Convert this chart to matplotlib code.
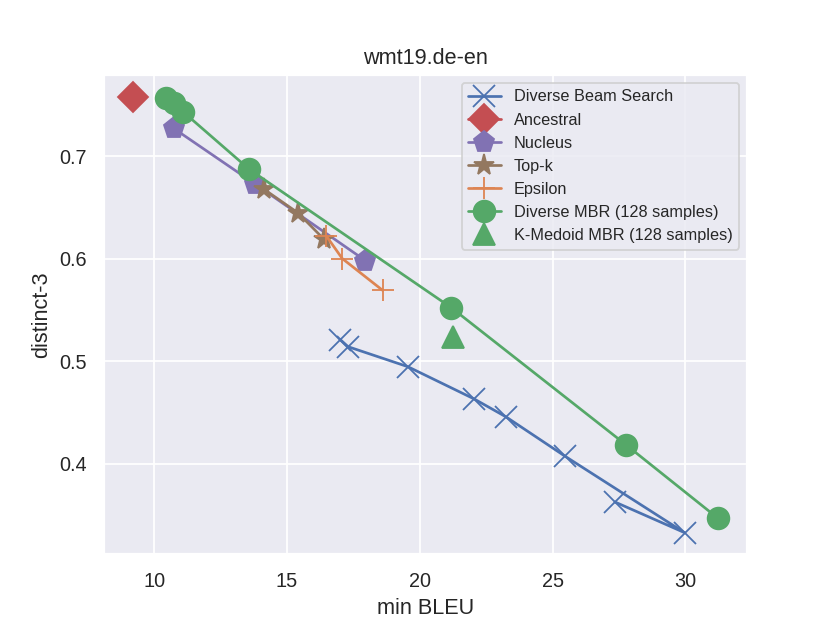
import matplotlib
matplotlib.use("Agg")
import matplotlib.pyplot as plt
import seaborn as sns

sns.set_theme()
plt.rcParams['font.family'] = ['Liberation Sans', 'DejaVu Sans']

# min BLEU / distinct-3 pairs
dbs_bleu = [17.0, 17.3, 19.55, 22.05, 23.25, 25.45, 29.97, 27.35]
dbs_dist = [0.521, 0.514, 0.4945, 0.463, 0.4455, 0.4075, 0.3326, 0.3625]

anc_bleu = [9.2]
anc_dist = [0.758]

nuc_bleu = [10.73, 13.78, 17.95]
nuc_dist = [0.727, 0.673, 0.598]

topk_bleu = [14.14, 15.41, 16.4]
topk_dist = [0.6675, 0.6446, 0.6186]

eps_bleu = [16.48, 17.08, 18.6]
eps_dist = [0.622, 0.600, 0.569]

dmbr_bleu = [10.45, 10.75, 11.08, 13.58, 21.19, 27.77, 31.22]
dmbr_dist = [0.757, 0.7515, 0.7433, 0.687, 0.552, 0.4182, 0.3468]

kmed_bleu = [21.25]
kmed_dist = [0.523]

pal = sns.color_palette()

fig = plt.figure(figsize=(830 / 130, 623 / 130), dpi=130)
ms = 12
plt.plot(dbs_bleu, dbs_dist, marker='x', markersize=ms, color=pal[0], label="Diverse Beam Search")
plt.plot(anc_bleu, anc_dist, marker='D', markersize=ms, color=pal[3], label="Ancestral")
plt.plot(nuc_bleu, nuc_dist, marker='p', markersize=ms, color=pal[4], label="Nucleus")
plt.plot(topk_bleu, topk_dist, marker='*', markersize=ms, color=pal[5], label="Top-k")
plt.plot(eps_bleu, eps_dist, marker='+', markersize=ms, color=pal[1], label="Epsilon")
plt.plot(dmbr_bleu, dmbr_dist, marker='o', markersize=ms, color=pal[2], label="Diverse MBR (128 samples)")
plt.plot(kmed_bleu, kmed_dist, marker='^', markersize=ms, color=pal[2], linestyle='none',
         label="K-Medoid MBR (128 samples)")

plt.title("wmt19.de-en")
plt.xlabel("min BLEU")
plt.ylabel("distinct-3")
plt.legend(loc="upper right", fontsize=9)
plt.savefig("out.png", dpi=130)
